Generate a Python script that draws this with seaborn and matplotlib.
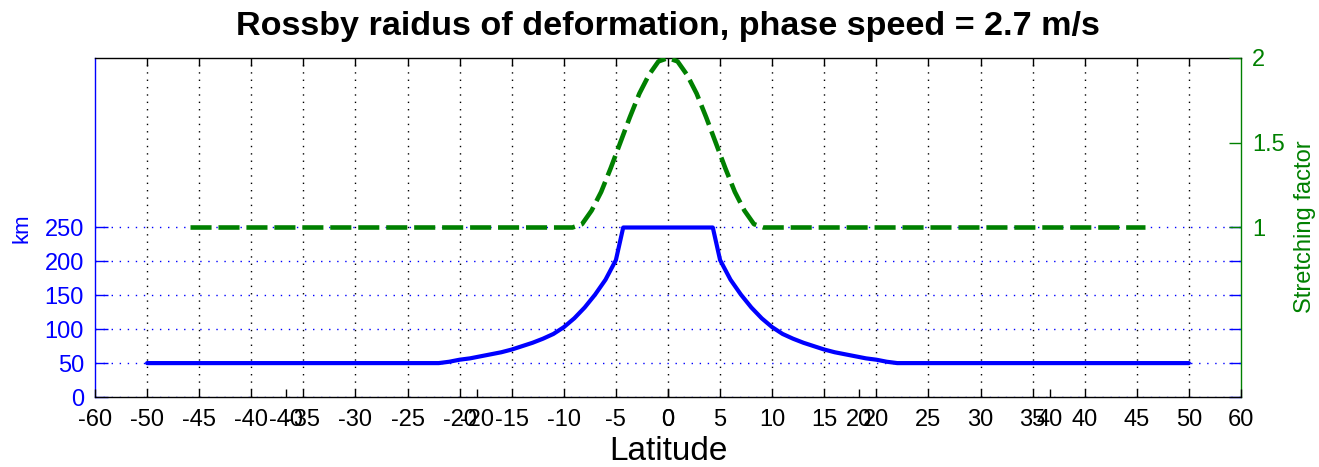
import seaborn as sns
import matplotlib.pyplot as plt
import numpy as np

# latitude (deg) vs Rossby radius (km)
side_lat = [5, 6, 7, 8, 9, 10, 11, 12, 13, 14, 15, 16, 17, 18, 19, 20, 21, 22]
side_km = [202, 173, 151, 132, 116, 103, 93, 86, 80, 75, 70, 66, 63, 60, 57, 55, 52, 50]
blue_lat = [-50] + [-v for v in side_lat[::-1]] + [-4.3, 4.3] + side_lat + [50]
blue_km = [50] + side_km[::-1] + [250, 250] + side_km + [50]

# stretching factor
green_lat = [-50, -10, -9, -8, -7, -6, -5, -4, -3, -2, -1, 0,
             1, 2, 3, 4, 5, 6, 7, 8, 9, 10, 50]
green_factor = [1.0, 1.0, 1.02, 1.10, 1.21, 1.35, 1.50, 1.65, 1.79, 1.90, 1.98, 2.0,
                1.98, 1.90, 1.79, 1.65, 1.50, 1.35, 1.21, 1.10, 1.02, 1.0, 1.0]

km_ticks = [0, 50, 100, 150, 200, 250]
factor_ticks = [1, 1.5, 2]

sns.set_style('white')
plt.rcParams['font.family'] = ['Liberation Sans', 'DejaVu Sans']
plt.rcParams['axes.unicode_minus'] = False
plt.rcParams['text.color'] = 'black'
plt.rcParams['axes.labelcolor'] = 'black'

BLUE = '#0000ff'
GREEN = '#008000'
FS = 17

fig = plt.figure(figsize=(13.19, 4.67), dpi=100)
rect = [95 / 1319, 1 - 397 / 467, (1241 - 95) / 1319, (397 - 58) / 467]
ax = fig.add_axes(rect)

sns.lineplot(x=blue_lat, y=blue_km, ax=ax, color=BLUE, linewidth=3)
ax.set_xlim(-55, 55)
ax.set_ylim(0, 500)
ax.set_xticks(np.arange(-50, 51, 5))
ax.set_yticks(km_ticks)
ax.tick_params(axis='x', direction='in', length=6, width=1, top=True, bottom=True,
               colors='black', labelsize=FS, pad=9)
ax.tick_params(axis='y', direction='in', length=9, width=1, left=True, right=True,
               colors=BLUE, labelsize=FS, pad=8)
ax.grid(axis='x', color='black', linestyle=(0, (1, 4.3)), linewidth=1)
ax.grid(axis='y', color=BLUE, linestyle=(0, (1, 4.8)), linewidth=1)
for s in ax.spines.values():
    s.set_color('black')
    s.set_linewidth(1)
ax.spines['left'].set_color(BLUE)
ax.spines['right'].set_color(GREEN)
ax.set_ylabel('km', color=BLUE, fontsize=16, va='center', ha='center')
ax.yaxis.set_label_coords((22 - 95) / 1146, 1 - (228 - 58) / 339)
ax.set_xlabel('Latitude', fontsize=24, va='center')
ax.xaxis.set_label_coords(0.5, -(452 - 397) / 339)

ax2 = fig.add_axes(rect, frameon=False)
ax2.patch.set_visible(False)
sns.lineplot(x=green_lat, y=green_factor, ax=ax2, color=GREEN, linewidth=3.3,
             linestyle=(0, (4.6, 1.5)))
ax2.set_xlim(-60, 60)
ax2.set_ylim(0, 2)
ax2.set_xticks(np.arange(-60, 61, 20))
ax2.set_yticks(factor_ticks)
ax2.set_yticklabels(['1', '1.5', '2'])
ax2.yaxis.tick_right()
ax2.yaxis.set_label_position('right')
ax2.tick_params(axis='x', direction='in', length=6, width=1, bottom=True, top=False,
                colors='black', labelsize=FS, pad=9)
ax2.tick_params(axis='y', direction='in', length=9, width=1, left=False, right=True,
                colors=GREEN, labelsize=FS, pad=8)
ax2.set_ylabel('Stretching factor', color=GREEN, fontsize=17, va='center', ha='center')
ax2.yaxis.set_label_coords((1305 - 95) / 1146, 1 - (227 - 58) / 339)

fig.text(668 / 1319, 1 - 27 / 467, 'Rossby raidus of deformation, phase speed = 2.7 m/s',
         ha='center', va='center', fontsize=24.6, fontweight='bold')

fig.savefig('out.png', dpi=100)
